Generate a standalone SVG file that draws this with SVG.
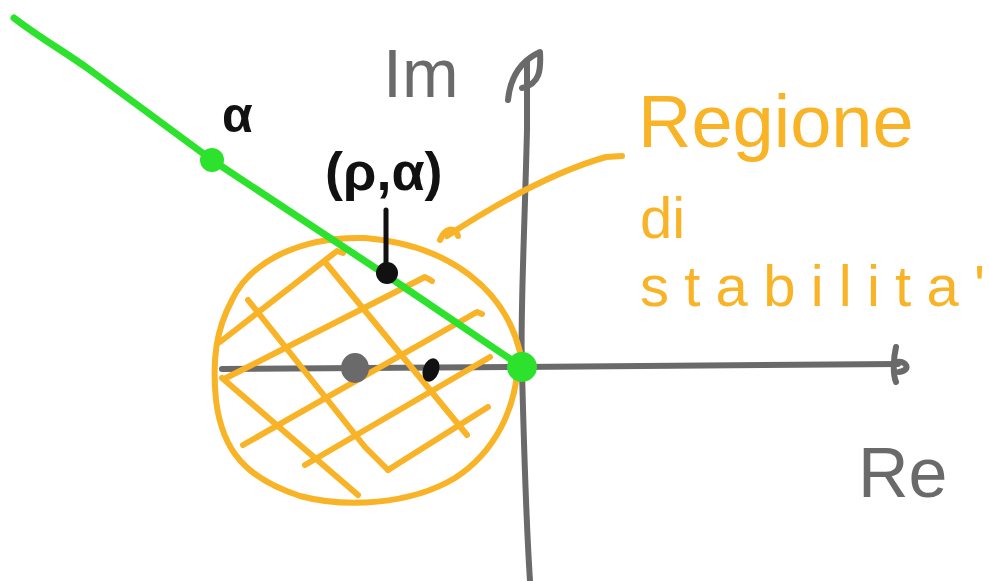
<svg xmlns="http://www.w3.org/2000/svg" width="989" height="581" viewBox="0 0 989 581">
<style>
.ax{fill:none;stroke:#6a6a6a;stroke-width:6;stroke-linecap:round;stroke-linejoin:round}
.or{fill:none;stroke:#F8B326;stroke-width:6;stroke-linecap:round;stroke-linejoin:round}
.gr{fill:none;stroke:#2CE22C;stroke-width:7;stroke-linecap:round;stroke-linejoin:round}
.bk{fill:none;stroke:#111;stroke-width:5;stroke-linecap:round}
.tg{font-family:"Liberation Sans",Arial,sans-serif;fill:#6a6a6a}
.to{font-family:"Liberation Sans",Arial,sans-serif;fill:#F8B326}
.tb{font-family:"Liberation Sans",Arial,sans-serif;fill:#111;font-weight:bold}
</style>
<rect width="989" height="581" fill="#fff"/>
<g id="axes">
  <path class="ax" d="M222,369 L520,367 L898,364"/>
  <path class="ax" d="M896,347 C893,360 893,375 896,382 M897,362 C906,360 912,370 899,372"/>
  <path class="ax" d="M527,62 L527,130 C524,250 520,320 522,370 C524,450 526,520 530,581"/>
  <path class="ax" d="M508,100 C510,80 518,62 540,52 C541,70 540,84 522,88"/>
  <text class="tg" x="383" y="97" font-size="68">Im</text>
  <text class="tg" x="858" y="497" font-size="70">Re</text>
</g>
<g id="region">
  <path class="or" d="M520,352 C505,290 450,245 365,238 C300,236 250,262 232,300 C216,330 212,360 216,400 C222,450 245,478 300,496 C345,508 410,505 455,478 C495,452 515,410 518,365"/>
  <path class="or" d="M220,342 L337,251 L343,253"/>
  <path class="or" d="M226,378 L425,277 L432,281"/>
  <path class="or" d="M243,445 L477,312 L482,314"/>
  <path class="or" d="M305,465 L490,357"/>
  <path class="or" d="M388,470 L488,407"/>
  <path class="or" d="M222,378 L358,495"/>
  <path class="or" d="M248,300 L365,447 L388,470"/>
  <path class="or" d="M325,262 L467,435"/>
</g>
<g id="connectors">
  <path class="or" d="M447,236 C510,195 560,170 606,157 L622,156"/>
  <path class="or" d="M440,240 C445,228 455,226 458,236" stroke-width="10"/>
  <path class="bk" d="M386,210 L386,272"/>
</g>
<g id="line">
  <path class="gr" d="M14,18 C40,38 62,50 90,70 L212,160 L386,275 L522,367"/>
  <circle cx="212" cy="160" r="12" fill="#2CE22C"/>
  <circle cx="522" cy="367" r="15" fill="#2CE22C"/>
  <text class="tb" x="222" y="132" font-size="50">α</text>
</g>
<g id="point">
  <circle cx="387" cy="273" r="11" fill="#111"/>
  <text class="tb" x="325" y="190" font-size="54">(ρ,α)</text>
</g>
<g id="poles">
  <ellipse cx="355" cy="368" rx="14" ry="15" fill="#6a6a6a"/>
  <ellipse cx="431" cy="370" rx="8" ry="12" transform="rotate(20 431 370)" fill="#111"/>
</g>
<g id="label">
  <text class="to" x="638" y="147" font-size="74">Regione</text>
  <text class="to" x="640" y="238" font-size="58">di</text>
  <text class="to" x="640" y="306" font-size="58" textLength="345" lengthAdjust="spacing">stabilita'</text>
</g>
</svg>
